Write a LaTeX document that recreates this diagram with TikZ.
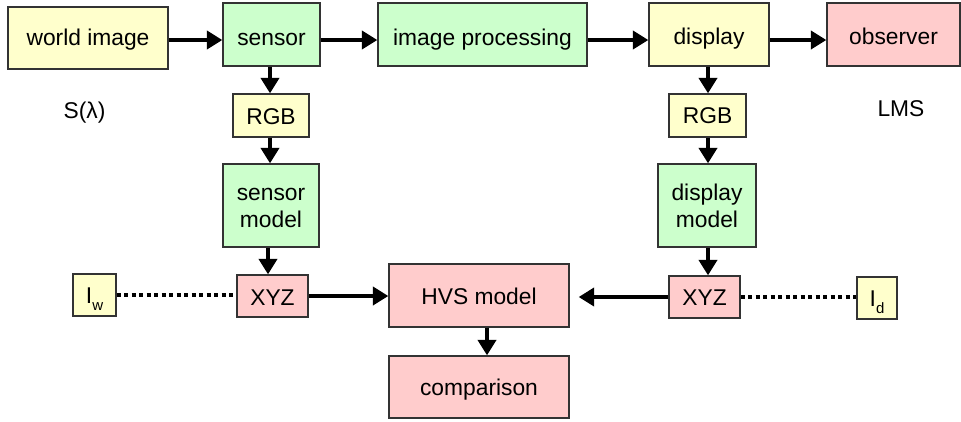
\documentclass[tikz,border=0pt]{standalone}
\usepackage{fontspec}
\setmainfont{Liberation Sans}
\usetikzlibrary{arrows.meta}
\definecolor{boxyellow}{HTML}{FFFFCC}
\definecolor{boxgreen}{HTML}{CCFFCC}
\definecolor{boxpink}{HTML}{FFCCCC}
\definecolor{edge}{HTML}{333333}
\tikzset{
  blk/.style={draw=edge, line width=1.3pt, inner sep=0pt},
  ybox/.style={blk, fill=boxyellow},
  gbox/.style={blk, fill=boxgreen},
  pbox/.style={blk, fill=boxpink},
  % box given by its corners: left, top, right, bottom (y grows downwards)
  corners/.style n args={4}{minimum width={(#3)-(#1)}, minimum height={(#4)-(#2)},
    at={({((#1)+(#3))/2},{((#2)+(#4))/2})}},
  lbl/.style={font=\fontsize{22.8}{27}\selectfont, inner sep=0pt},
  % fixed line box, so its centre sits 5.9pt above the baseline
  line/.style={lbl, text height=16.6pt, text depth=4.8pt},
  % one line of text, its baseline #1 below the box centre
  txt/.style 2 args={label={[line, yshift={-((#1)-5.9)}]center:#2}},
  flow/.style={line width=4pt, -{Triangle[length=15.5pt,width=18pt]}},
  link/.style={line width=4pt, dash pattern=on 4pt off 3.5pt}
}
\newcommand{\subtxt}[1]{\raisebox{-7pt}{\fontsize{15}{15}\selectfont #1}}
\begin{document}
\begin{tikzpicture}[x=1pt, y=-1pt]
\useasboundingbox (0,0) rectangle (961,421);

% top row
\node[ybox, corners={8}{7}{168}{69}, txt={7}{world image}] (world) {};
\node[gbox, corners={223}{3}{320}{66}, txt={10.5}{sensor}] (sensor) {};
\node[gbox, corners={378}{3}{587}{66}, txt={10.5}{image processing}] (proc) {};
\node[ybox, corners={649}{3}{769}{66}, txt={10}{display}] (disp) {};
\node[pbox, corners={827}{3}{960}{66}, txt={10}{observer}] (obs) {};

% sensor chain
\node[ybox, corners={233}{94}{309}{137}, txt={8.5}{RGB}] (rgbL) {};
\node[gbox, corners={223}{164}{319}{247}, txt={-5.5}{sensor}, txt={21.5}{model}] (smodel) {};
\node[pbox, corners={237}{275}{308}{317}, txt={9}{XYZ}] (xyzL) {};

% display chain
\node[ybox, corners={669}{94}{746}{137}, txt={8}{RGB}] (rgbR) {};
\node[gbox, corners={658}{164}{756}{247}, txt={-5.5}{display}, txt={21.5}{model}] (dmodel) {};
\node[pbox, corners={669}{276}{740}{318}, txt={8}{XYZ}] (xyzR) {};

% white points
\node[ybox, corners={73}{274}{116}{316}, txt={8.3}{I\subtxt{w}}] (iw) {};
\node[ybox, corners={857}{277}{897}{319}, txt={8}{I\subtxt{d}}] (id) {};

% vision model
\node[pbox, corners={389}{264}{569}{327}, txt={8.5}{HVS model}] (hvs) {};
\node[pbox, corners={389}{356}{569}{418}, txt={8}{comparison}] (comp) {};

% spectral / cone labels
\node[lbl, anchor=base] (slam) at (84.5,118) {S(λ)};
\node[lbl, anchor=base] (lms) at (901,116) {LMS};

% top row flow
\draw[flow] ([yshift=-2pt]world.east) -- ([yshift=-2pt]world.east -| sensor.west);
\draw[flow] ([yshift=-5.5pt]sensor.east) -- ([yshift=-5.5pt]sensor.east -| proc.west);
\draw[flow] ([yshift=-5.5pt]proc.east) -- ([yshift=-5.5pt]proc.east -| disp.west);
\draw[flow] ([yshift=-5.5pt]disp.east) -- ([yshift=-5.5pt]disp.east -| obs.west);

% sensor chain
\draw[flow] ([xshift=-1.5pt]sensor.south) -- ([xshift=-1.5pt]sensor.south |- rgbL.north);
\draw[flow] ([xshift=-1pt]rgbL.south) -- ([xshift=-1pt]rgbL.south |- smodel.north);
\draw[flow] ([xshift=-3pt]smodel.south) -- ([xshift=-3pt]smodel.south |- xyzL.north);

% display chain
\draw[flow] ([xshift=-1pt]disp.south) -- ([xshift=-1pt]disp.south |- rgbR.north);
\draw[flow] ([xshift=0.5pt]rgbR.south) -- ([xshift=0.5pt]rgbR.south |- dmodel.north);
\draw[flow] ([xshift=1pt]dmodel.south) -- ([xshift=1pt]dmodel.south |- xyzR.north);

% into and out of the vision model
\coordinate (hvsin) at ([xshift=9pt]hvs.east |- xyzR.west);
\draw[flow] (xyzL.east) -- (xyzL.east -| hvs.west);
\draw[flow] (xyzR.west) -- (hvsin);
\draw[flow] ([xshift=8pt]hvs.south) -- ([xshift=8pt]hvs.south |- comp.north);

% white point links
\draw[link] (iw.east) -- (iw.east -| xyzL.west);
\draw[link] (xyzR.east) -- (xyzR.east -| id.west);
\end{tikzpicture}
\end{document}
